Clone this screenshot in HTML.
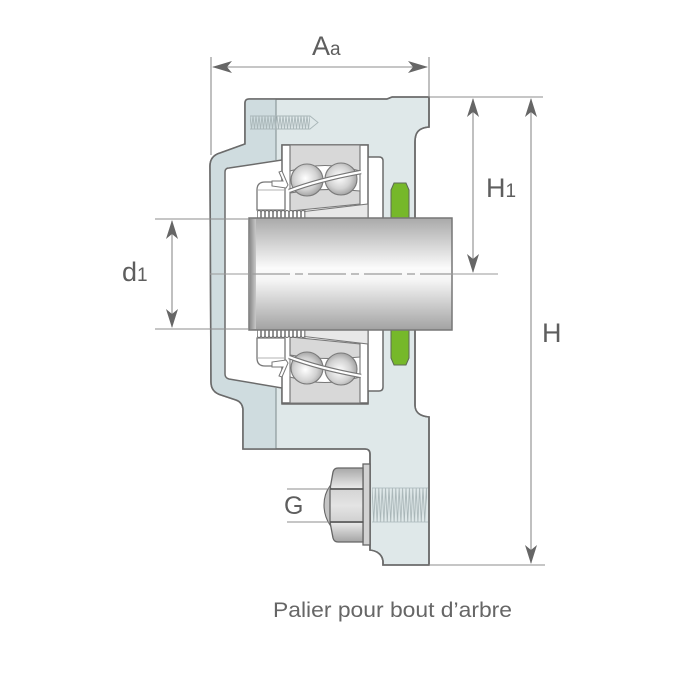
<!DOCTYPE html>
<html><head><meta charset="utf-8"><style>
html,body{margin:0;padding:0;background:#fff;}
svg{display:block;}
text{font-family:"Liberation Sans",sans-serif;fill:#5e5e5e;}
</style></head><body>
<svg width="700" height="700" viewBox="0 0 700 700" xmlns="http://www.w3.org/2000/svg">
<defs>
  <linearGradient id="shaft" x1="0" y1="0" x2="0" y2="1">
    <stop offset="0" stop-color="#a9a9a9"/>
    <stop offset="0.45" stop-color="#fbfbfb"/>
    <stop offset="0.55" stop-color="#f6f6f6"/>
    <stop offset="1" stop-color="#a2a2a2"/>
  </linearGradient>
  <linearGradient id="shaftEnd" x1="0" y1="0" x2="1" y2="0">
    <stop offset="0" stop-color="#8e8e8e"/>
    <stop offset="1" stop-color="#c8c8c8"/>
  </linearGradient>
  <radialGradient id="ball" cx="0.45" cy="0.45" r="0.6">
    <stop offset="0" stop-color="#ffffff"/>
    <stop offset="0.6" stop-color="#d2d2d2"/>
    <stop offset="1" stop-color="#9a9a9a"/>
  </radialGradient>
  <linearGradient id="hexTop" x1="0" y1="0" x2="0" y2="1">
    <stop offset="0" stop-color="#a8a8a8"/>
    <stop offset="1" stop-color="#ececec"/>
  </linearGradient>
  <linearGradient id="hexMid" x1="0" y1="0" x2="0" y2="1">
    <stop offset="0" stop-color="#d4d4d4"/>
    <stop offset="0.5" stop-color="#e4e4e4"/>
    <stop offset="1" stop-color="#d0d0d0"/>
  </linearGradient>
  <linearGradient id="hexBot" x1="0" y1="0" x2="0" y2="1">
    <stop offset="0" stop-color="#ececec"/>
    <stop offset="1" stop-color="#a4a4a4"/>
  </linearGradient>
  <pattern id="thrTop" x="250" y="116" width="3" height="13" patternUnits="userSpaceOnUse">
    <path d="M0,0 L1.5,13 L3,0" fill="none" stroke="#a9b6b8" stroke-width="0.9"/>
  </pattern>
  <pattern id="thrBolt" x="372" y="488" width="3.4" height="34" patternUnits="userSpaceOnUse">
    <path d="M0,0 L1.7,34 L3.4,0" fill="none" stroke="#a9b6b8" stroke-width="0.9"/>
  </pattern>
  <pattern id="nutThr" x="257" y="210" width="4" height="8" patternUnits="userSpaceOnUse">
    <path d="M0.3,8 L0.3,2.5 Q0.3,0.5 2,0.5 Q3.7,0.5 3.7,2.5 L3.7,8" fill="#fff" stroke="#6e6e6e" stroke-width="0.9"/>
  </pattern>
</defs>

<!-- housing silhouette -->
<path d="M249,99 L387,99 L392,97 L429,97 L429,127 C418,128 415,133 415,142 L415,405 C415,412 419,416 429,417 L429,565 L383,565 L383,561 C382,555 378,551 370,550 L370,454 Q370,449 365,449 L243,449 L243,409 Q242,402 236,400 L221,395 Q211,392 211,382 L210,166 Q210,156 220,153 L245,144 L245,103 Q245,99 249,99 Z" fill="#dfe8e9" stroke="#6b6b6b" stroke-width="1.6"/>
<!-- cap (darker) -->
<path d="M249,99 L276,99 L276,160 L225,168 L225,378 L276,388 L276,449 L243,449 L243,409 Q242,402 236,400 L221,395 Q211,392 211,382 L210,166 Q210,156 220,153 L245,144 L245,103 Q245,99 249,99 Z" fill="#cfdcdf" stroke="none"/>
<line x1="276" y1="99" x2="276" y2="160" stroke="#7d8a8c" stroke-width="1"/>
<line x1="276" y1="388" x2="276" y2="449" stroke="#7d8a8c" stroke-width="1"/>
<path d="M249,99 L387,99 L392,97 L429,97 L429,127 C418,128 415,133 415,142 L415,405 C415,412 419,416 429,417 L429,565 L383,565 L383,561 C382,555 378,551 370,550 L370,454 Q370,449 365,449 L243,449 L243,409 Q242,402 236,400 L221,395 Q211,392 211,382 L210,166 Q210,156 220,153 L245,144 L245,103 Q245,99 249,99 Z" fill="none" stroke="#6b6b6b" stroke-width="1.6"/>

<!-- top screw thread -->
<rect x="250" y="116" width="60" height="13" fill="url(#thrTop)"/>
<path d="M250,116 L310,116 L318,122.5 L310,129 L250,129" fill="none" stroke="#a9b6b8" stroke-width="0.9"/>

<!-- inner cavity -->
<path d="M229,168 L282,160 L282,145 L368,145 L368,157 L379,157 Q383,157 383,161 L383,387 Q383,391 379,391 L368,391 L368,404 L282,404 L282,388 L229,379 Q225,378 225,374 L225,172 Q225,168 229,168 Z" fill="#fff" stroke="#6b6b6b" stroke-width="1.5"/>

<!-- bearing group (upper) -->
<g id="brg">
  <rect x="282" y="145" width="86" height="73" fill="#fff" stroke="#6b6b6b" stroke-width="1.5"/>
  <path d="M290,145 L360,145 L360,171 Q325,160 290,171 Z" fill="#d8d8d8" stroke="#787878" stroke-width="1.1"/>
  <path d="M290,193 Q325,187 360,191 L360,204 L290,211 Z" fill="#d8d8d8" stroke="#787878" stroke-width="1.1"/>
  <line x1="290" y1="145" x2="290" y2="212" stroke="#787878" stroke-width="1.1"/>
  <line x1="360" y1="145" x2="360" y2="205" stroke="#787878" stroke-width="1.1"/>
  <path d="M300,212 L368,204 L368,218 L300,218 Z" fill="#e8e8e8" stroke="#787878" stroke-width="1.1"/>
  <circle cx="307" cy="180" r="16" fill="url(#ball)" stroke="#7a7a7a" stroke-width="1.1"/>
  <circle cx="341" cy="179" r="16" fill="url(#ball)" stroke="#7a7a7a" stroke-width="1.1"/>
  <path d="M289,191 Q318,180 361,172" fill="none" stroke="#777" stroke-width="4.5"/>
  <path d="M289,191 Q318,180 361,172" fill="none" stroke="#fff" stroke-width="2.2"/>
  <path d="M257,210 L257,190 Q257,182 265,182 L285,182 L285,210 Z" fill="#fff" stroke="#777" stroke-width="1.3"/>
  <line x1="258" y1="190" x2="284" y2="190" stroke="#9a9a9a" stroke-width="0.8"/>
  <path d="M272,181 L283,181 L279,172 L282,171 L288,185 L286,188 L272,186 Z" fill="#fff" stroke="#777" stroke-width="1"/>
  <rect x="257" y="210" width="48" height="8" fill="url(#nutThr)"/>
  <line x1="305" y1="210" x2="305" y2="218" stroke="#777" stroke-width="0.8"/>
  <path d="M391,190 L394,183 L406,183 L409,190 L409,218 L391,218 Z" fill="#76b82a" stroke="#5d6a55" stroke-width="1"/>
</g>
<use href="#brg" transform="translate(0,548) scale(1,-1)"/>

<!-- shaft -->
<rect x="249" y="218" width="203" height="112" fill="url(#shaft)" stroke="#767676" stroke-width="1.5"/>
<rect x="250" y="219" width="6" height="110" fill="url(#shaftEnd)"/>

<!-- centerline -->
<line x1="210" y1="274" x2="249" y2="274" stroke="#9a9a9a" stroke-width="1"/>
<line x1="252" y1="274" x2="452" y2="274" stroke="#9c9c9c" stroke-width="1.3" stroke-dasharray="38 5 8 5"/>
<line x1="452" y1="274" x2="498" y2="274" stroke="#9a9a9a" stroke-width="1"/>

<!-- bolt -->
<rect x="372" y="488" width="55" height="34" fill="url(#thrBolt)"/>
<line x1="372" y1="488" x2="428" y2="488" stroke="#a9b6b8" stroke-width="0.8"/>
<line x1="372" y1="522" x2="428" y2="522" stroke="#a9b6b8" stroke-width="0.8"/>
<rect x="363" y="464" width="7" height="81" fill="#d2d2d2" stroke="#666" stroke-width="1.3"/>
<path d="M330,489 L333,472 Q334,468 338,468 L363,468 L363,489 Z" fill="url(#hexTop)" stroke="#666" stroke-width="1.3"/>
<path d="M330,522 L333,538 Q334,542 338,542 L363,542 L363,522 Z" fill="url(#hexBot)" stroke="#666" stroke-width="1.3"/>
<path d="M330,486 Q324,494 324,505 Q324,516 330,525 L331,489 Z" fill="#c4c4c4" stroke="#666" stroke-width="1.1"/>
<rect x="330" y="489" width="33" height="33" fill="url(#hexMid)" stroke="#666" stroke-width="1.3"/>
<line x1="330" y1="489" x2="363" y2="489" stroke="#555" stroke-width="1.6"/>
<line x1="330" y1="522" x2="363" y2="522" stroke="#555" stroke-width="1.6"/>

<!-- dimension lines -->
<g stroke="#8c8c8c" stroke-width="1.1" fill="none">
  <line x1="211" y1="57" x2="211" y2="155"/>
  <line x1="429" y1="57" x2="429" y2="97"/>
  <line x1="213" y1="67" x2="427" y2="67"/>
  <line x1="429" y1="97" x2="543" y2="97"/>
  <line x1="429" y1="565" x2="545" y2="565"/>
  <line x1="473" y1="99" x2="473" y2="272"/>
  <line x1="531" y1="99" x2="531" y2="563"/>
  <line x1="155" y1="219" x2="249" y2="219"/>
  <line x1="155" y1="329" x2="249" y2="329"/>
  <line x1="172" y1="221" x2="172" y2="327"/>
  <line x1="287" y1="489" x2="330" y2="489"/>
  <line x1="287" y1="522" x2="330" y2="522"/>
</g>
<g fill="#666">
  <path d="M212,67 L232,61 L227,67 L232,73 Z"/>
  <path d="M428,67 L408,61 L413,67 L408,73 Z"/>
  <path d="M473,98 L467,117 L473,112 L479,117 Z"/>
  <path d="M473,273 L467,254 L473,259 L479,254 Z"/>
  <path d="M531,98 L525,117 L531,112 L537,117 Z"/>
  <path d="M531,564 L525,545 L531,550 L537,545 Z"/>
  <path d="M172,220 L166,239 L172,234 L178,239 Z"/>
  <path d="M172,328 L166,309 L172,314 L178,309 Z"/>
</g>

<!-- labels -->
<text x="312" y="55" font-size="27">A<tspan font-size="19">a</tspan></text>
<text x="486" y="197" font-size="27">H<tspan font-size="19">1</tspan></text>
<text x="542" y="342" font-size="27">H</text>
<text x="122" y="281" font-size="27">d<tspan font-size="19">1</tspan></text>
<text x="284" y="514" font-size="25">G</text>
<text x="273" y="617" font-size="21" textLength="239" lengthAdjust="spacingAndGlyphs" style="fill:#666">Palier pour bout d’arbre</text>
</svg>
</body></html>
